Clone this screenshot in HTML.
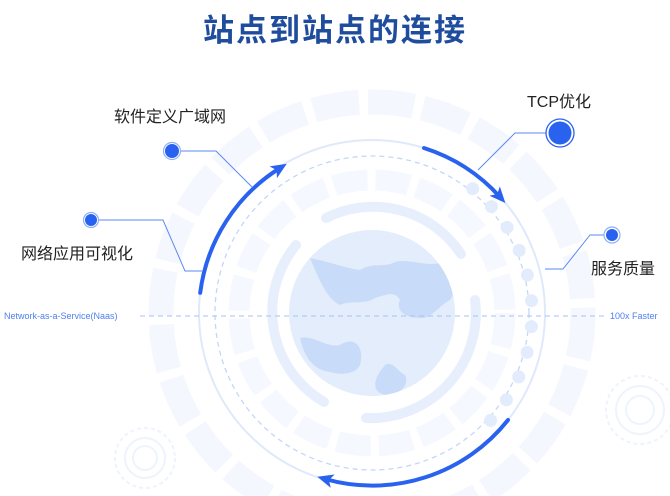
<!DOCTYPE html>
<html><head><meta charset="utf-8"><style>
html,body{margin:0;padding:0;background:#fff;overflow:hidden;width:670px;height:496px;}
svg{display:block;}
text{font-family:"Liberation Sans","Noto Sans CJK SC",sans-serif;}
</style></head><body>
<svg width="670" height="496" viewBox="0 0 670 496" xmlns="http://www.w3.org/2000/svg">
<defs>
<marker id="ah" markerWidth="16" markerHeight="14" refX="8" refY="7" orient="auto" markerUnits="userSpaceOnUse">
<path d="M0,0 L16,7 L0,14 L4,7 Z" fill="#2a62f0"/>
</marker>
<clipPath id="g"><circle cx="372" cy="313" r="83"/></clipPath>
</defs>
<text x="335" y="41" text-anchor="middle" font-size="31" font-weight="bold" fill="#1f4c9c" style="letter-spacing:2px">站点到站点的连接</text>

<g fill="none" stroke="#eef3fc" stroke-width="2">
<circle cx="145" cy="458" r="30" stroke-dasharray="4 3"/><circle cx="145" cy="458" r="20"/><circle cx="145" cy="458" r="12"/>
<circle cx="640" cy="410" r="34" stroke-dasharray="4 3"/><circle cx="640" cy="410" r="24"/><circle cx="640" cy="410" r="14"/>
</g>

<circle cx="372" cy="313" r="211" fill="none" stroke="#f4f7fe" stroke-width="25" stroke-dasharray="46 9"/>
<circle cx="372" cy="313" r="133" fill="none" stroke="#f5f8fe" stroke-width="21" stroke-dasharray="34 8"/>

<circle cx="372" cy="313" r="173" fill="none" stroke="#dfe9fc" stroke-width="2"/>
<circle cx="372" cy="313" r="157" fill="none" stroke="#c4d6f8" stroke-width="1.3" stroke-dasharray="5 4"/>

<g fill="none" stroke="#e8effc" stroke-width="10" stroke-linecap="round">
<path d="M326,218 A105,105 0 0 1 461,254"/>
<path d="M296,245 A105,105 0 0 0 324,402"/>
<path d="M366,418 A105,105 0 0 0 475,300"/>
</g>

<circle cx="372" cy="313" r="83" fill="#e4edfc"/>
<g clip-path="url(#g)" fill="#c8dbf8">
<path d="M310,258 C330,262 345,268 360,270 C372,262 385,268 395,262 C410,258 425,268 445,262 C455,268 460,285 450,300 C440,305 430,320 420,318 C405,318 395,310 400,300 C395,290 385,295 375,298 C365,305 350,300 340,305 C328,300 320,282 310,258 Z"/>
<path d="M300,338 C315,335 325,348 340,345 C355,335 365,348 360,365 C355,375 340,375 330,372 C315,370 305,360 300,338 Z"/>
<path d="M385,365 C392,360 398,372 405,375 C410,385 400,395 385,395 C372,392 372,380 385,365 Z"/>
</g>

<path d="M472.7,188.7 A160,160 0 0 1 479,432" fill="none" stroke="#e3ecfc" stroke-width="13" stroke-linecap="round" stroke-dasharray="0 26"/>

<line x1="140" y1="316" x2="604" y2="316" stroke="#a8c2f5" stroke-width="1" stroke-dasharray="5 4"/>
<text x="4" y="319" font-size="9" fill="#4e7ff0">Network-as-a-Service(Naas)</text>
<text x="610" y="319" font-size="9" fill="#4e7ff0">100x Faster</text>

<g fill="none" stroke="#2a62f0" stroke-width="4" stroke-linecap="round">
<path d="M200.2,292.8 A173,173 0 0 1 280,168" marker-end="url(#ah)"/>
<path d="M424,148 A173,173 0 0 1 500,197" marker-end="url(#ah)"/>
<path d="M508,420 A173,173 0 0 1 325,479" marker-end="url(#ah)"/>
</g>

<g fill="none" stroke="#5b8af2" stroke-width="1">
<polyline points="180,151 216,151 252,187"/>
<polyline points="99,220 163,220 185,271 203,271"/>
<polyline points="547,133 515,133 478,170"/>
<polyline points="605,235 590,235 563,269 545,269"/>
</g>
<g>
<circle cx="172" cy="151" r="8.5" fill="#fff" stroke="#8fb0f6" stroke-width="1.2"/><circle cx="172" cy="151" r="7" fill="#2a62f0"/>
<circle cx="91" cy="220" r="7.5" fill="#fff" stroke="#8fb0f6" stroke-width="1.2"/><circle cx="91" cy="220" r="6" fill="#2a62f0"/>
<circle cx="560" cy="133" r="14" fill="#fff" stroke="#2a62f0" stroke-width="1.3"/><circle cx="560" cy="133" r="11.5" fill="#2a62f0"/>
<circle cx="612" cy="235" r="8" fill="#fff" stroke="#8fb0f6" stroke-width="1.2"/><circle cx="612" cy="235" r="6" fill="#2a62f0"/>
</g>

<text x="114" y="122" font-size="16" fill="#222">软件定义广域网</text>
<text x="21" y="259" font-size="16" fill="#222">网络应用可视化</text>
<text x="527" y="107" font-size="16" fill="#222">TCP优化</text>
<text x="591" y="274" font-size="16" fill="#222">服务质量</text>
</svg>
</body></html>
